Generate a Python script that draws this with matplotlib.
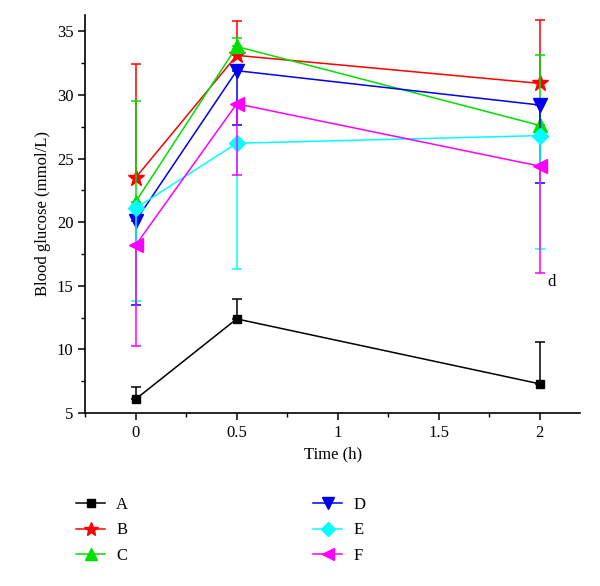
import matplotlib
matplotlib.use('Agg')
import matplotlib.pyplot as plt
from matplotlib.ticker import MultipleLocator

plt.rcParams['font.family'] = ['Liberation Serif', 'DejaVu Serif']

time_h = [0, 0.5, 2]
groups = ['A', 'B', 'C', 'D', 'E', 'F']
means = {
    'A': [6.1, 12.4, 7.3],
    'B': [23.5, 33.1, 30.9],
    'C': [21.6, 33.8, 27.6],
    'D': [20.1, 31.9, 29.2],
    'E': [21.1, 26.2, 26.8],
    'F': [18.2, 29.3, 24.4],
}
# one-sided error bars: upper for A-C, lower for D-F
err_up = {
    'A': [0.95, 1.6, 3.3],
    'B': [8.9, 2.7, 5.0],
    'C': [7.9, 0.7, 5.5],
}
err_down = {
    'D': [6.6, 4.3, 6.1],
    'E': [7.3, 9.9, 8.9],
    'F': [7.9, 5.6, 8.4],
}
colors = {'A': 'black', 'B': '#ff0000', 'C': '#00e000', 'D': '#0000ee',
          'E': '#00ffff', 'F': '#ff00ff'}
markers = {'A': 's', 'B': '*', 'C': '^', 'D': 'v', 'E': 'D', 'F': '<'}
msizes = {'A': 6, 'B': 12, 'C': 10, 'D': 10, 'E': 8, 'F': 10}

fig = plt.figure(figsize=(6, 5.86), dpi=100)
ax = fig.add_axes([0.142, 0.295, 0.825, 0.68])

handles = []
for g in groups:
    y = means[g]
    if g in err_up:
        yerr = [[0] * 3, err_up[g]]
    else:
        yerr = [err_down[g], [0] * 3]
    ax.errorbar(time_h, y, yerr=yerr, fmt='none', ecolor=colors[g],
                elinewidth=1.1, capsize=3.5, capthick=1.1)
    h, = ax.plot(time_h, y, color=colors[g], lw=1.1, marker=markers[g],
                 markersize=msizes[g], markerfacecolor=colors[g],
                 markeredgecolor=colors[g], label=g)
    handles.append(h)

ax.text(2.04, 15.3, 'd', fontsize=12, ha='left', va='center')

ax.set_xlim(-0.25, 2.2)
ax.set_ylim(5, 36.3)
ax.xaxis.set_major_locator(MultipleLocator(0.5))
ax.xaxis.set_minor_locator(MultipleLocator(0.25))
ax.yaxis.set_major_locator(MultipleLocator(5))
ax.yaxis.set_minor_locator(MultipleLocator(2.5))
ax.set_xticks([0, 0.5, 1, 1.5, 2])
ax.set_xticklabels(['0', '0.5', '1', '1.5', '2'])
ax.spines['top'].set_visible(False)
ax.spines['right'].set_visible(False)
for s in ['left', 'bottom']:
    ax.spines[s].set_linewidth(1.2)
ax.tick_params(which='major', direction='out', length=5, width=1.1, labelsize=12)
ax.tick_params(which='minor', direction='out', length=3, width=1.0)
ax.set_xlabel('Time (h)', fontsize=12)
ax.set_ylabel('Blood glucose (mmol/L)', fontsize=12)

fig.legend(handles=handles, ncol=2, loc='upper left',
           bbox_to_anchor=(0.102, 0.177), frameon=False, fontsize=12,
           columnspacing=11.1, handlelength=1.75, handletextpad=0.65,
           labelspacing=0.55, markerscale=0.85)

fig.savefig('out.png', dpi=100)
